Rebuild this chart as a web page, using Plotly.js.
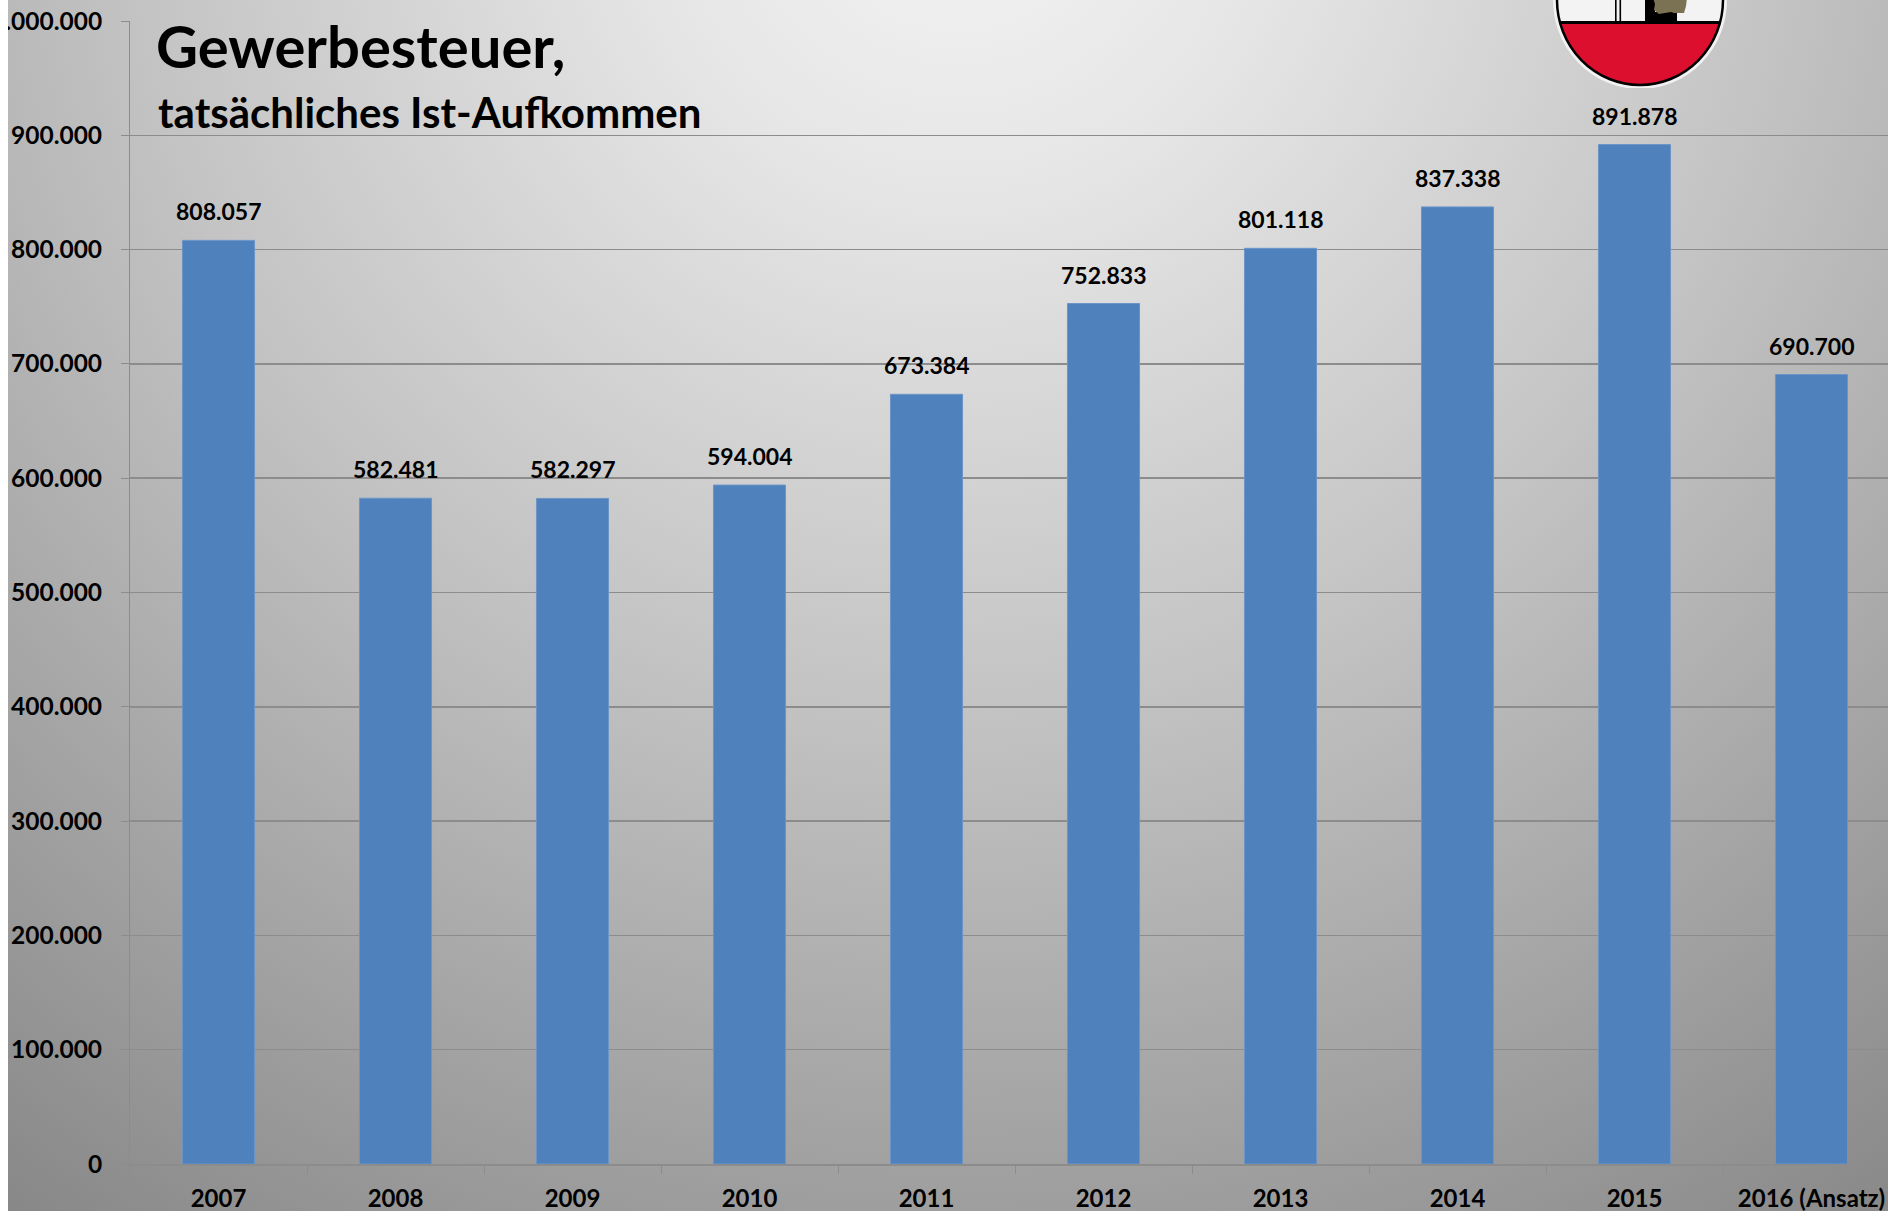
<!DOCTYPE html>
<html>
<head>
<meta charset="utf-8">
<script src="https://cdn.plot.ly/plotly-3.0.1.min.js"></script>
<style>
  html, body { margin: 0; padding: 0; background: #ffffff; }
  #bg { position: absolute; left: 8px; top: 0; width: 1880px; height: 1211px;
        background: radial-gradient(circle 1700px at 950px -120px, #f4f4f4 0%, #e6e6e6 18%, #c4c4c4 48%, #a2a2a2 75%, #838383 100%); }
  #chart { position: absolute; left: 0; top: 0; width: 1888px; height: 1211px; }
  #strip { position: absolute; left: 0; top: 0; width: 8px; height: 1211px; background: #ffffff; z-index: 5; pointer-events: none; }
</style>
</head>
<body>
<div id="bg"></div>
<div id="chart"></div>
<div id="strip"></div>
<script>
// ---- data ----
const categories = ["2007", "2008", "2009", "2010", "2011", "2012", "2013", "2014", "2015", "2016 (Ansatz)"];
const values = [808057, 582481, 582297, 594004, 673384, 752833, 801118, 837338, 891878, 690700];
const yTickValues = [0, 100000, 200000, 300000, 400000, 500000, 600000, 700000, 800000, 900000, 1000000];
const titleText = "Gewerbesteuer,";
const subtitleText = "tatsächliches Ist-Aufkommen";

function fmtDE(n) {
  return String(Math.round(n)).replace(/\B(?=(\d{3})+(?!\d))/g, ".");
}

const FONT = "Lato, 'Open Sans', 'DejaVu Sans', sans-serif";
const GRID = "#8c8c8c";

const trace = {
  type: "bar",
  x: categories,
  y: values,
  marker: { color: "#4f81bd", line: { color: "#6b95c8", width: 1 } },
  hoverinfo: "x+y"
};

// category positions referenced by index so numeric-looking labels are not read as numbers
const labelAnnotations = categories.map((c, i) => ({
  x: i, y: values[i], xref: "x", yref: "y",
  text: fmtDE(values[i]),
  showarrow: false, yanchor: "middle", yshift: 29,
  font: { family: FONT, size: 23, color: "#000000", weight: "bold" }
}));

// coat of arms (decorative)
const shieldSvg =
  '<svg xmlns="http://www.w3.org/2000/svg" width="175" height="88" viewBox="0 0 175 88">' +
  '<path d="M4 -5 L4 0 A83 85 0 0 0 170 0 L170 -5 Z" fill="none" stroke="#f2f2f2" stroke-width="8"/>' +
  '<clipPath id="c"><path d="M4 -5 L4 0 A83 85 0 0 0 170 0 L170 -5 Z"/></clipPath>' +
  '<g clip-path="url(#c)">' +
  '<rect x="0" y="-5" width="175" height="28" fill="#f3f3f3"/>' +
  '<rect x="0" y="23" width="175" height="70" fill="#dc0f2f"/>' +
  '<rect x="0" y="21" width="175" height="3" fill="#000"/>' +
  '</g>' +
  '<rect x="62" y="-2" width="1.6" height="25" fill="#000"/>' +
  '<rect x="66.5" y="-2" width="1.6" height="25" fill="#000"/>' +
  '<rect x="92" y="-2" width="10" height="25" fill="#000"/>' +
  '<rect x="100" y="12" width="24" height="11" fill="#000"/>' +
  '<path d="M100 -2 L134 -2 L133 6 L131 13 L121 13 L118 12 L106 14 L101 10 L102 4 Z" fill="#7b7253"/>' +
  '<path d="M4 -5 L4 0 A83 85 0 0 0 170 0 L170 -5" fill="none" stroke="#000" stroke-width="2.5"/>' +
  '</svg>';
const shieldSrc = "data:image/svg+xml;base64," + btoa(shieldSvg);

const W = 1888, H = 1211;
const mL = 130, mR = 0, mT = 21, mB = 47;
const pw = W - mL - mR, ph = H - mT - mB;
const px2x = px => (px - mL) / pw;
const py2y = py => (H - mB - py) / ph;

const layout = {
  width: W, height: H,
  margin: { l: mL, r: mR, t: mT, b: mB, pad: 0 },
  paper_bgcolor: "rgba(0,0,0,0)",
  plot_bgcolor: "rgba(0,0,0,0)",
  separators: ",.",
  showlegend: false,
  bargap: 0.593,
  font: { family: FONT, color: "#000000" },
  title: {
    text: titleText,
    font: { family: FONT, size: 58, color: "#000000", weight: "bold" },
    x: 156 / W, xanchor: "left", xref: "container",
    y: 1 - 48 / H, yanchor: "middle", yref: "container"
  },
  xaxis: {
    type: "category",
    range: [-0.5, -0.5 + pw / 177],
    showgrid: false,
    showline: true, linecolor: GRID, linewidth: 1.5,
    ticks: "outside", tickson: "boundaries", ticklen: 8, tickcolor: GRID, tickwidth: 1,
    tickfont: { family: FONT, size: 24, color: "#000000", weight: "bold" },
    ticklabelstandoff: 13,
    automargin: false, fixedrange: true
  },
  yaxis: {
    range: [0, 1000000],
    tickvals: yTickValues,
    ticktext: yTickValues.map(fmtDE),
    showgrid: true, gridcolor: GRID, gridwidth: 1.5,
    zeroline: false,
    showline: true, linecolor: GRID, linewidth: 1,
    ticks: "outside", ticklen: 8, tickcolor: GRID, tickwidth: 1,
    tickfont: { family: FONT, size: 24.5, color: "#000000", weight: "bold" },
    ticklabelstandoff: 14,
    automargin: false, fixedrange: true
  },
  annotations: labelAnnotations.concat([{
    xref: "paper", yref: "paper",
    x: px2x(156), y: py2y(112), xanchor: "left", yanchor: "middle",
    text: subtitleText, showarrow: false,
    font: { family: FONT, size: 42, color: "#000000", weight: "bold" }
  }]),
  images: [{
    source: shieldSrc, xref: "paper", yref: "paper",
    x: px2x(1553), y: py2y(0), sizex: 175 / pw, sizey: 88 / ph,
    xanchor: "left", yanchor: "top", sizing: "stretch", layer: "above"
  }]
};

Plotly.newPlot("chart", [trace], layout, { displayModeBar: false, staticPlot: true });
</script>
</body>
</html>
